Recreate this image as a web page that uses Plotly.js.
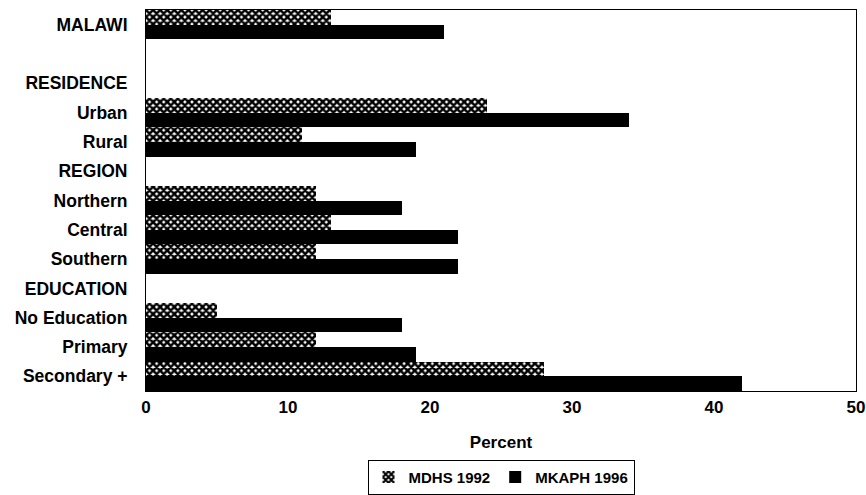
<!DOCTYPE html>
<html>
<head>
<meta charset="utf-8">
<script src="https://cdn.plot.ly/plotly-3.0.1.min.js"></script>
<style>html,body{margin:0;padding:0;background:#fff;}#chart{width:866px;height:495px;}</style>
</head>
<body>
<div id="chart"></div>
<script>
const categories = ["MALAWI", " ", "RESIDENCE", "Urban", "Rural", "REGION", "Northern", "Central", "Southern", "EDUCATION", "No Education", "Primary", "Secondary +"];
const mdhs1992 = [13, null, null, 24, 11, null, 12, 13, 12, null, 5, 12, 28];
const mkaph1996 = [21, null, null, 34, 19, null, 18, 22, 22, null, 18, 19, 42];
const seriesNames = ["MDHS 1992", "MKAPH 1996"];
const xTicks = [0, 10, 20, 30, 40, 50];

const font = {family: "Liberation Sans, Arial, sans-serif", color: "#000"};

const traces = [
  {
    type: "bar", orientation: "h", name: seriesNames[0],
    y: categories, x: mdhs1992,
    marker: {color: "#fff", line: {width: 0},
      pattern: {shape: "x", fgcolor: "#000", bgcolor: "#fff", size: 5, solidity: 0.75}},
    hoverinfo: "x+y"
  },
  {
    type: "bar", orientation: "h", name: seriesNames[1],
    y: categories, x: mkaph1996,
    marker: {color: "#000", line: {width: 0}},
    hoverinfo: "x+y"
  }
];

const layout = {
  width: 866, height: 495,
  margin: {l: 146, r: 10, t: 10, b: 104},
  paper_bgcolor: "#fff", plot_bgcolor: "#fff",
  barmode: "group", bargap: 0.0, bargroupgap: 0,
  font: Object.assign({size: 17}, font),
  xaxis: {
    range: [0, 50], tickvals: xTicks, ticktext: xTicks.map(String),
    showgrid: false, zeroline: false, showline: true, mirror: true,
    linecolor: "#000", linewidth: 1, ticks: "",
    ticklabeloverflow: "allow", automargin: false,
    tickfont: Object.assign({size: 17, weight: "bold"}, font),
    ticklabelstandoff: 1,
    title: {text: "<b>Percent</b>", font: Object.assign({size: 17}, font), standoff: 19}
  },
  yaxis: {
    type: "category", categoryorder: "array", categoryarray: categories,
    autorange: "reversed", automargin: false,
    showgrid: false, zeroline: false, showline: true, mirror: true,
    linecolor: "#000", linewidth: 1, ticks: "",
    tickfont: Object.assign({size: 17.5, weight: "bold"}, font),
    ticklabelstandoff: 14
  },
  legend: {
    orientation: "h", x: 0.5, xanchor: "center",
    yref: "container", y: 0.071, yanchor: "top",
    bordercolor: "#000", borderwidth: 1, bgcolor: "#fff",
    font: Object.assign({size: 15, weight: "bold"}, font),
    itemwidth: 30, traceorder: "normal", tracegroupgap: 0
  },
  showlegend: true
};

Plotly.newPlot("chart", traces, layout, {staticPlot: true, displayModeBar: false});
</script>
</body>
</html>
